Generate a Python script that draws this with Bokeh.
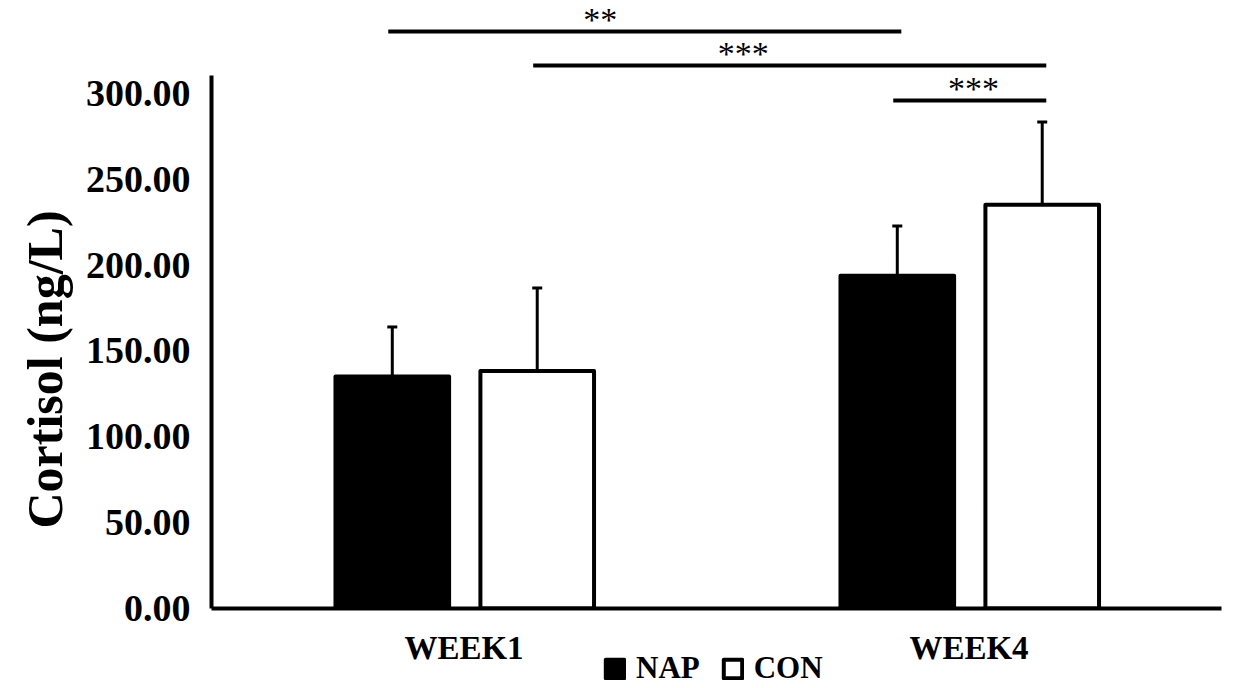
from bokeh.plotting import figure
from bokeh.layouts import column
from bokeh.models import (FactorRange, Range1d, ColumnDataSource, Whisker, TeeHead,
                          Legend, LegendItem, FixedTicker, PrintfTickFormatter, Title)
from bokeh.transform import dodge
from bokeh.core.properties import value
from bokeh.embed import file_html
from bokeh.resources import INLINE

# ---- data ----
weeks = ["WEEK1", "WEEK4"]
series = ["NAP", "CON"]
nap = [135.1, 193.8]
nap_err = [28.9, 29.0]
con = [138.4, 235.2]
con_err = [48.3, 48.2]
y_ticks = [0, 50, 100, 150, 200, 250, 300]

# significance comparisons: (group_a, series_a) vs (group_b, series_b), bracket level, stars, star x
sig_a = [(0, "NAP"), (0, "CON"), (1, "NAP")]
sig_b = [(1, "NAP"), (1, "CON"), (1, "CON")]
sig_level = [336.1, 316.3, 295.9]
sig_text = ["**", "***", "***"]
sig_text_x = [0.770, 1.053, 1.509]

FONT = "Liberation Serif"
offs = {"NAP": -0.142, "CON": 0.145}
fills = {"NAP": "black", "CON": "white"}
bar_w = 0.225

src = ColumnDataSource(dict(
    week=weeks, nap=nap, con=con,
    nap_hi=[v + e for v, e in zip(nap, nap_err)],
    con_hi=[v + e for v, e in zip(con, con_err)],
))

H_MAIN = 669
p = figure(x_range=FactorRange(factors=weeks, range_padding=0, factor_padding=0),
           y_range=Range1d(0, 349.5),
           width=1234, height=H_MAIN, output_backend="svg", toolbar_location=None,
           min_border_left=211, min_border_right=13, min_border_top=8, min_border_bottom=61)
p.outline_line_color = None
p.xgrid.grid_line_color = None
p.ygrid.grid_line_color = None

for s in series:
    k = s.lower()
    p.vbar(x=dodge("week", offs[s], range=p.x_range), top=k, width=bar_w, source=src,
           fill_color=fills[s], line_color="black", line_width=4, line_join="round")
    p.add_layout(Whisker(base=dodge("week", offs[s], range=p.x_range), lower=k, upper=k + "_hi",
                         source=src, dimension="height", line_width=3, line_color="black",
                         upper_head=TeeHead(size=10, line_width=3, line_color="black"),
                         lower_head=None))

# significance brackets
def xpos(g, s):
    return g + 0.5 + offs[s]

pad = 0.008
x0 = [xpos(*a) - pad for a in sig_a]
x1 = [xpos(*b) + pad for b in sig_b]
p.segment(x0=x0, x1=x1, y0=sig_level, y1=sig_level, line_color="black", line_width=4)
p.text(x=sig_text_x, y=sig_level, text=sig_text, text_font=value(FONT), text_font_size="34px",
       text_align="center", text_baseline="alphabetic", y_offset=-12, text_color="black")

# axes
ax = p.xaxis[0]
ax.axis_line_width = 4
ax.axis_line_color = "black"
ax.major_tick_line_color = None
ax.minor_tick_line_color = None
ax.major_label_text_font = FONT
ax.major_label_text_font_style = "bold"
ax.major_label_text_font_size = "33px"
ax.major_label_text_color = "black"
ax.major_label_standoff = 15

ay = p.yaxis[0]
ay.ticker = FixedTicker(ticks=y_ticks)
ay.formatter = PrintfTickFormatter(format="%.2f")
ay.bounds = (0, 310.5)
ay.axis_line_width = 4
ay.axis_line_color = "black"
ay.major_tick_line_color = None
ay.minor_tick_line_color = None
ay.major_label_text_font = FONT
ay.major_label_text_font_style = "bold"
ay.major_label_text_font_size = "38px"
ay.major_label_text_color = "black"
ay.major_label_standoff = 15

p.add_layout(Title(text="Cortisol (ng/L)", align="left", offset=80, vertical_align="bottom",
                   text_font=FONT, text_font_style="bold", text_font_size="50px",
                   text_color="black", standoff=20), "left")

# transparent legend strip, pulled up to overlap the bottom of the chart
H_LEG = 40
overlap = H_MAIN + H_LEG - 688
lg = figure(width=1234, height=H_LEG, output_backend="svg", toolbar_location=None,
            x_range=Range1d(0, 1), y_range=Range1d(0, 1), x_axis_type=None, y_axis_type=None,
            min_border_left=0, min_border_right=0, min_border_top=0, min_border_bottom=0,
            margin=(-overlap, 0, 0, 0))
lg.outline_line_color = None
lg.background_fill_alpha = 0
lg.border_fill_alpha = 0
lg.xgrid.grid_line_color = None
lg.ygrid.grid_line_color = None
items = []
for s in series:
    r = lg.vbar(x=[0.5], bottom=[0.0], top=[float("nan")], width=0.001, fill_color=fills[s],
                line_color="black", line_width=4, line_join="round")
    items.append(LegendItem(label=s, renderers=[r]))
legend = Legend(items=items, orientation="horizontal", location=(392, 2),
                glyph_width=23, glyph_height=23, label_standoff=10, spacing=21,
                padding=0, margin=0, border_line_color=None, background_fill_alpha=0,
                label_text_font=FONT, label_text_font_style="bold", label_text_font_size="31px",
                label_text_color="black")
lg.add_layout(legend)

open("out.html", "w").write(file_html(column(p, lg, spacing=0), INLINE))
